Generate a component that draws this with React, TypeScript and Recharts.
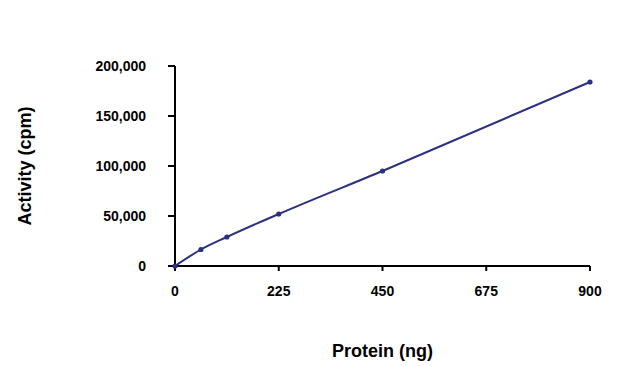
import { LineChart, Line, XAxis, YAxis } from 'recharts'

// Protein amount (ng) and measured activity (cpm)
const proteinNg = [0, 56.25, 112.5, 225, 450, 900]
const activityCpm = [0, 16500, 29000, 52000, 95000, 184000]

const xTicks = [0, 225, 450, 675, 900]
const yTicks = [0, 50000, 100000, 150000, 200000]

const data = proteinNg.map((p, i) => ({ protein: p, activity: activityCpm[i] }))

const lineColor = '#2d2f80'
const font = '"Liberation Sans", Arial, sans-serif'

export default function App() {
  return (
    <div style={{ position: 'absolute', left: 0, top: 0, width: 640, height: 366, background: '#fff' }}>
      <LineChart
        width={640}
        height={366}
        data={data}
        margin={{ top: 66, right: 50, bottom: 0, left: 0 }}
      >
        <XAxis
          dataKey="protein"
          type="number"
          domain={[0, 900]}
          ticks={xTicks}
          interval={0}
          height={100}
          stroke="#000"
          strokeWidth={2}
          tickSize={5}
          tickMargin={15}
          tick={{ fill: '#000', fontSize: 14, fontWeight: 'bold', fontFamily: font }}
          label={{
            value: 'Protein (ng)',
            position: 'insideBottom',
            offset: 9,
            style: { fill: '#000', fontSize: 18, fontWeight: 'bold', fontFamily: font },
          }}
        />
        <YAxis
          type="number"
          domain={[0, 200000]}
          ticks={yTicks}
          interval={0}
          width={175}
          stroke="#000"
          strokeWidth={2}
          tickSize={7}
          tickMargin={22}
          tickFormatter={(v: number) => v.toLocaleString('en-US')}
          tick={{ fill: '#000', fontSize: 14, fontWeight: 'bold', fontFamily: font }}
          label={{
            value: 'Activity (cpm)',
            angle: -90,
            position: 'insideLeft',
            offset: 25,
            style: { fill: '#000', fontSize: 18, fontWeight: 'bold', fontFamily: font, textAnchor: 'middle' },
          }}
        />
        <Line
          type="monotone"
          dataKey="activity"
          stroke={lineColor}
          strokeWidth={2}
          dot={{ r: 1.6, fill: lineColor, stroke: lineColor }}
          isAnimationActive={false}
        />
      </LineChart>
    </div>
  )
}
